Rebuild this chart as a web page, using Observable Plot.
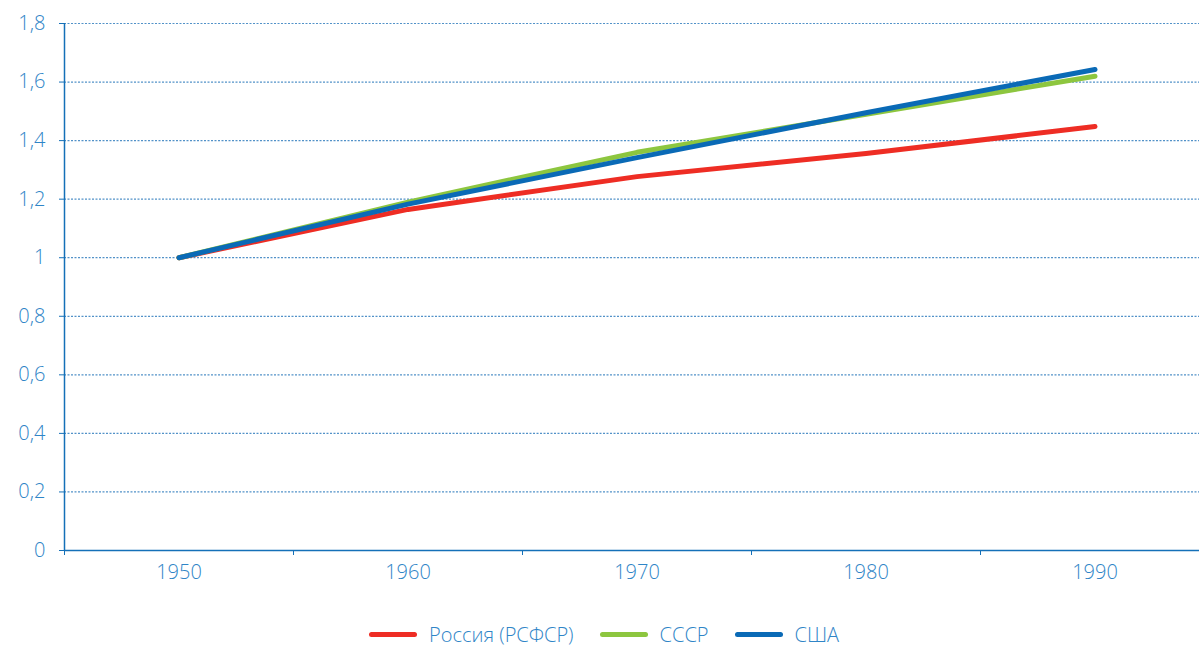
<!DOCTYPE html>
<html>
<head>
<meta charset="utf-8">
<script src="https://cdn.jsdelivr.net/npm/d3@7"></script>
<script src="https://cdn.jsdelivr.net/npm/@observablehq/plot@0.6"></script>
<style>
  html, body { margin: 0; padding: 0; background: #fff; }
  body { width: 1199px; height: 648px; overflow: hidden; font-family: "Open Sans", "Noto Sans", sans-serif; }
  #chart svg { display: block; }
  .legend { display: flex; align-items: center; position: absolute; top: 621px; left: 369px; font-family: "Open Sans", sans-serif; font-weight: 300; font-size: 20px; color: #2f85c7; }
  .legend .item { display: flex; align-items: center; margin-right: 26px; }
  .legend .sw { width: 48px; height: 5px; border-radius: 3px; margin-right: 12px; }
</style>
</head>
<body>
<div id="chart"></div>
<div class="legend" id="legend"></div>
<script>
const years = [1950, 1960, 1970, 1980, 1990];
const russia = [1.0, 1.165, 1.277, 1.356, 1.448];
const ussr = [1.0, 1.19, 1.36, 1.49, 1.62];
const usa = [1.0, 1.183, 1.342, 1.495, 1.643];
const seriesNames = ["Россия (РСФСР)", "СССР", "США"];
const seriesColors = ["#ee2d24", "#8dc63f", "#0a6ab6"];
const yTicks = [0, 0.2, 0.4, 0.6, 0.8, 1, 1.2, 1.4, 1.6, 1.8];
const bandEdges = [1945, 1955, 1965, 1975, 1985, 1995];

const seriesValues = [russia, ussr, usa];
const data = [];
seriesNames.forEach((name, i) => {
  years.forEach((yr, j) => data.push({series: name, year: yr, value: seriesValues[i][j]}));
});

const axisColor = "#1470b8";
const textColor = "#2f85c7";
const fmt = d => String(d).replace(".", ",");

const plot = Plot.plot({
  width: 1199,
  height: 610,
  marginTop: 23,
  marginBottom: 60,
  marginLeft: 64,
  marginRight: 0,
  style: {fontFamily: "Open Sans, sans-serif", fontSize: "20px", color: textColor, background: "#fff"},
  x: {type: "linear", domain: [1945, 1995], range: [64, 1209]},
  y: {domain: [0, 1.8]},
  color: {domain: seriesNames, range: seriesColors},
  marks: [
    Plot.gridY(yTicks.filter(d => d > 0), {stroke: "#3f86c2", strokeOpacity: 0.9, strokeWidth: 1.2, strokeDasharray: "2,1.5"}),
    Plot.axisY(yTicks, {tickFormat: fmt, tickSize: 5, tickPadding: 14, stroke: axisColor, fill: textColor, fontSize: 20, fontWeight: 300, label: null}),
    Plot.axisX(bandEdges, {tickFormat: () => "", tickSize: 5, stroke: axisColor, label: null}),
    Plot.axisX(years, {tickFormat: d => String(d), tickSize: 0, tickPadding: 14, fill: textColor, fontSize: 20, fontWeight: 300, label: null}),
    Plot.ruleX([1945], {y1: 0, y2: 1.8, stroke: axisColor, strokeWidth: 1.5}),
    Plot.ruleY([0], {stroke: axisColor, strokeWidth: 1.5}),
    Plot.line(data, {x: "year", y: "value", z: "series", stroke: "series", strokeWidth: 5, strokeLinecap: "round", strokeLinejoin: "round"})
  ]
});
document.getElementById("chart").appendChild(plot);

const legend = document.getElementById("legend");
seriesNames.forEach((name, i) => {
  const item = document.createElement("div");
  item.className = "item";
  const sw = document.createElement("div");
  sw.className = "sw";
  sw.style.background = seriesColors[i];
  const label = document.createElement("span");
  label.textContent = name;
  item.appendChild(sw);
  item.appendChild(label);
  legend.appendChild(item);
});
</script>
</body>
</html>
